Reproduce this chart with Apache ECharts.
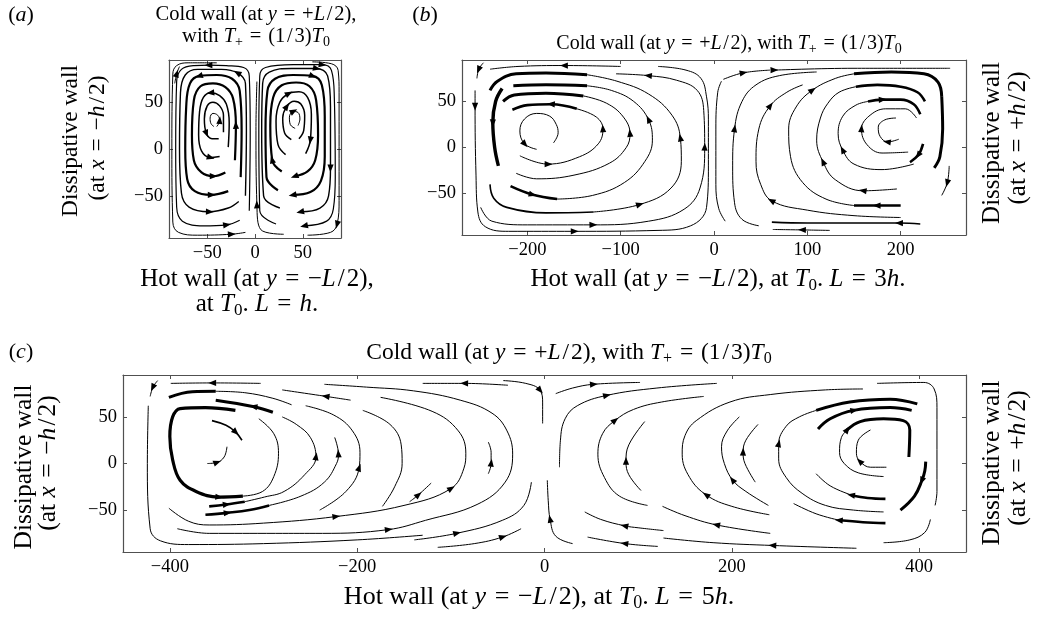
<!DOCTYPE html>
<html><head><meta charset="utf-8">
<script src="https://cdn.jsdelivr.net/npm/echarts@6/dist/echarts.min.js"></script>
<style>html,body{margin:0;padding:0;background:#fff}#c{width:1038px;height:617px}</style>
</head><body><div id="c"></div>
<script>
// ---- tick values ----
const aTicksX = [-50, 0, 50];
const bTicksX = [-200, -100, 0, 100, 200];
const cTicksX = [-400, -200, 0, 200, 400];
const yTicks = [-50, 0, 50];

// ---- streamlines, panel (a): L = h ----
const aLeftLines = [
 [[-40,24],[-37,30],[-39,36],[-44,38],[-47,33],[-46,27],[-43,24]],
 [[-33,18],[-33,36],[-37,46],[-44,50],[-50,46],[-53,32],[-51,17],[-45,11],[-38,11]],
 [[-28,2],[-27,28],[-30,48],[-37,57],[-46,60],[-54,55],[-58,40],[-59,15],[-56,-2],[-47,-9],[-37,-8]],
 [[-21,-12],[-20,25],[-23,54],[-31,66],[-44,70],[-57,67],[-64,52],[-66,15],[-64,-12],[-56,-25],[-44,-29],[-31,-25]],
 [[-15,-30],[-14,20],[-16,62],[-24,75],[-40,79],[-58,78],[-68,70],[-72,45],[-73,0],[-71,-32],[-63,-45],[-46,-49],[-28,-45]],
 [[-10,-50],[-9,20],[-10,70],[-18,81],[-35,85],[-60,85],[-73,79],[-78,60],[-79,0],[-77,-47],[-69,-62],[-48,-67],[-28,-63],[-17,-56]],
 [[-6,-66],[-5,20],[-6,78],[-12,87],[-30,89],[-48,89.5],[-64,89],[-77,85],[-82,72],[-83,0],[-82,-62],[-76,-77],[-54,-82],[-30,-81],[-16,-76]],
 [[-40,92],[-70,92],[-82,89],[-86,80],[-87,0],[-86,-78],[-80,-89],[-60,-92],[-25,-91],[-10,-89]],
 [[-84,70],[-82,80],[-79,88]]
];
const aRightLines = [
 [[42,22],[37,26],[36,34],[40,40],[45,39],[47,32],[45,25]],
 [[38,10],[31,17],[29,33],[33,45],[41,51],[48,48],[52,36],[51,20],[46,11]],
 [[32,-6],[24,5],[22,30],[26,50],[35,59],[46,61],[55,55],[59,37],[58,10],[53,-5]],
 [[28,-24],[18,-12],[16,25],[19,55],[28,68],[43,71],[57,67],[64,52],[66,15],[63,-12],[55,-24],[42,-29]],
 [[24,-44],[12,-30],[11,20],[13,62],[21,75],[40,79],[60,78],[70,68],[73,35],[73,-8],[69,-34],[58,-46],[40,-49]],
 [[26,-63],[9,-50],[7,20],[8,70],[15,82],[38,86],[64,86],[76,78],[79,45],[79,-20],[77,-50],[68,-63],[48,-67]],
 [[22,-80],[5,-66],[4,20],[5,78],[11,87],[40,90],[70,90],[80,84],[83,55],[84,-30],[82,-64],[75,-77],[52,-82]],
 [[30,-91],[6,-86],[2,-60],[1,20],[2,72]],
 [[60,93],[80,91],[87,84],[88,60],[88,-55],[86,-80],[79,-89],[55,-92]]
];

// ---- streamlines, panel (b): L = 3h ----
const bLeftLines = [
 [[-172,5],[-167,16],[-169,25],[-176,34],[-190,37],[-203,31],[-208,18],[-203,4],[-190,-2]],
 [[-208,-9],[-178,-18],[-144,-10],[-124,4],[-119,20],[-126,33],[-147,42]],
 [[-147,42],[-174,47],[-200,46],[-216,41]],
 [[-212,-28],[-190,-34],[-150,-30],[-112,-17],[-94,0],[-90,15],[-97,33],[-115,48],[-140,56]],
 [[-140,56],[-180,59],[-214,57],[-226,50]],
 [[-168,-56],[-130,-52],[-96,-38],[-74,-15],[-66,8],[-70,30],[-86,50],[-110,62],[-136,67]],
 [[-136,67],[-180,68],[-215,67]],
 [[-218,-42],[-195,-51],[-168,-56]],
 [[-129,-70],[-80,-62],[-46,-44],[-35,-15],[-36,10],[-45,35],[-70,58],[-104,72],[-136,79]],
 [[-136,79],[-180,81],[-212,80],[-232,72],[-240,62]],
 [[-240,-40],[-236,-55],[-222,-65],[-180,-71],[-129,-70]],
 [[-250,-65],[-238,-80],[-200,-84],[-130,-84],[-70,-80],[-32,-67],[-15,-44],[-10,0],[-11,40],[-18,62],[-40,73],[-70,78],[-105,80]],
 [[-256,62],[-256,45],[-255,-30],[-253,-70],[-245,-86],[-220,-91],[-150,-91],[-60,-90],[-25,-85],[-8,-65],[-6,-20],[-6,30],[-8,55],[-14,75],[-30,84],[-60,88]],
 [[-100,88],[-160,89],[-210,88],[-240,85]],
 [[-227,64],[-234,50],[-237,27],[-235,0],[-231,-20]],
 [[-247,92],[-252,85],[-254,75]]
];
const bRightLines = [
 [[198,9],[186,6],[178,12],[176,22],[183,30],[195,32]],
 [[208,-5],[180,-6],[164,3],[158,20],[166,34],[184,42],[205,42],[217,32]],
 [[214,-18],[180,-24],[150,-18],[138,-3],[133,15],[138,34],[152,46],[165,50]],
 [[165,50],[180,52],[200,52],[214,47],[221,36]],
 [[224,4],[219,-8],[210,-16]],
 [[196,-45],[160,-47],[130,-35],[117,-16],[110,8],[114,32],[122,48],[134,60],[152,66]],
 [[152,66],[175,68],[200,66],[218,60],[226,50]],
 [[200,-63],[175,-63],[150,-63]],
 [[150,-63],[120,-56],[95,-38],[82,-10],[80,20],[88,44],[105,62],[130,75],[150,80]],
 [[150,80],[190,82],[225,80],[240,71],[244,55]],
 [[244,55],[245,20],[242,-10],[236,-22]],
 [[200,-76],[150,-74],[100,-68],[62,-58],[50,-40],[45,-15],[48,20],[60,45],[78,60],[95,68]],
 [[48,-85],[30,-78],[22,-60],[20,-20],[22,20],[30,50],[45,68],[70,78],[110,82]],
 [[10,74],[31,81],[60,84]],
 [[64,84],[150,86],[253,86]],
 [[12,-80],[5,-66],[2,-40],[2,20],[4,60],[8,72]],
 [[252,-20],[250,-38],[244,-52]],
 [[221,-83],[199,-82],[150,-82],[100,-82],[62,-81]],
 [[124,-90],[95,-89.5],[63,-89]]
];

// ---- streamlines, panel (c): L = 5h ----
const cLeftLines = [
 [[-423,62],[-424,0],[-421,-70],[-410,-83],[-380,-87],[-300,-86],[-200,-82],[-130,-77]],
 [[-413,89],[-418,82],[-421,72]],
 [[-303,86],[-354,86.5],[-399,86]],
 [[-207,68],[-233,72],[-280,79]],
 [[-39,84],[-85,86],[-130,86]],
 [[-44,89],[-20,86],[-5,79],[-2,65],[-2,43]],
 [[-360,0],[-350,1],[-342,7],[-339,18]],
 [[-355,46],[-340,41],[-330,34],[-323,25]],
 [[-322,-35],[-301,-30],[-289,-14],[-284,11],[-289,32],[-305,48]],
 [[-330,57],[-362,60],[-389,59],[-397,50],[-400,29],[-397,4],[-389,-18],[-372,-30],[-348,-36],[-322,-35]],
 [[-320,-41],[-299,-36],[-278,-30],[-256,-12],[-244,7],[-250,28],[-265,42],[-280,50]],
 [[-358,-46],[-340,-44],[-320,-41]],
 [[-290,55],[-310,61],[-351,68]],
 [[-401,71],[-376,77],[-351,77.5]],
 [[-351,77.5],[-320,76],[-290,70],[-270,63]],
 [[-362,-55],[-339,-53],[-315,-50],[-294,-45]],
 [[-294,-45],[-260,-35],[-235,-20],[-222,0],[-220,10],[-224,28]],
 [[-240,-50],[-212,-30],[-198,-5],[-197,12],[-205,35],[-225,52],[-255,62]],
 [[-173,-46],[-160,-25],[-152,0],[-153,20],[-165,42],[-194,57]],
 [[-401,-48],[-380,-62],[-358,-66],[-300,-64],[-223,-57],[-150,-45],[-100,-27],[-86,-5],[-84,11],[-92,35],[-120,56],[-175,71]],
 [[-60,-11],[-57,0],[-57,12],[-60,23]],
 [[-144,-41],[-135,-34],[-121,-21]],
 [[-392,-70],[-358,-75],[-287,-75],[-237,-75],[-167,-71],[-127,-61],[-72,-44],[-42,-20],[-34,10],[-40,35],[-56,54],[-90,68],[-140,78],[-190,82],[-235,85]],
 [[-139,-82],[-94,-75],[-45,-61],[-22,-45],[-14,-20]],
 [[-114,-90],[-75,-86],[-45,-79],[-25,-70]]
];
const cRightLines = [
 [[365,-4],[348,-4],[337,2],[333,11],[335,25],[348,36]],
 [[362,-14],[335,-10],[320,0],[315,12],[317,28],[323,36]],
 [[323,36],[337,45],[362,48],[383,46],[390,36],[389,7]],
 [[292,37],[305,48],[330,57],[369,60],[392,57]],
 [[290,57],[326,66],[369,69],[398,64]],
 [[407,2],[406,-8],[403,-18],[395,-35],[380,-50]],
 [[364,-38],[345,-37],[328,-34]],
 [[328,-34],[305,-24],[290,-11]],
 [[364,-64],[340,-63],[315,-61]],
 [[315,-61],[290,-54],[266,-43]],
 [[362,-52],[330,-50],[300,-45],[275,-32],[258,-15],[250,5],[250,21],[258,40],[272,50],[290,57]],
 [[225,-20],[214,0],[212,12],[215,25],[228,42]],
 [[239,-45],[215,-30],[201,-18],[192,0],[189,18],[195,35],[208,50]],
 [[240,-55],[200,-46],[173,-34],[155,-15],[147,10],[150,30],[162,46],[198,66],[241,74],[300,79],[340,80]],
 [[103,-29],[90,-12],[87,2],[90,20],[107,45]],
 [[110,-45],[80,-35],[64,-15],[57,10],[62,32],[75,46],[95,58],[125,66],[170,72]],
 [[12,75],[30,81],[52,85],[102,87]],
 [[16,-4],[17,25],[22,48],[35,62],[66,73],[120,81],[184,86]],
 [[333,-91],[244,-88],[180,-85],[127,-80]],
 [[121,-89],[86,-86],[46,-79]],
 [[241,-75],[184,-66],[150,-56],[126,-46]],
 [[127,-72],[100,-69],[86,-67],[60,-60],[43,-52]],
 [[355,86],[405,87],[416,80],[419,60],[419,-30],[417,-45]],
 [[412,-60],[406,-74],[390,-82],[362,-85]],
 [[30,-86],[12,-78],[6,-60],[4,-40],[3,-18]]
];

// ---- styles: line width and arrow vertex indices (kept apart from the data) ----
const aLeftStyle = [{w:1,a:[1]},{w:1.5,a:[6]},{w:1.5,a:[4,9]},{w:2.2,a:[1,10]},{w:2.2,a:[5,11]},{w:1.4,a:[3,11]},{w:1.2,a:[5,13]},{w:1,a:[8]},{w:1,a:[1]}];
const aRightStyle = [{w:1,a:[3]},{w:1.5,a:[3]},{w:1.5,a:[4,8]},{w:2.2,a:[1,11]},{w:2.2,a:[6,12]},{w:1.4,a:[6,9,12]},{w:1.2,a:[6,12]},{w:1,a:[2]},{w:1,a:[5]}];
const bLeftStyle = [{w:1,a:[7]},{w:1,a:[1,4]},{w:2.6,a:[1]},{w:1,a:[5]},{w:3,a:[]},{w:1,a:[5]},{w:3,a:[]},{w:2.6,a:[1]},{w:1,a:[1,4]},{w:3,a:[]},{w:1.6,a:[]},{w:1,a:[3,7,11]},{w:1,a:[1,6]},{w:1,a:[1]},{w:3.4,a:[2]},{w:1,a:[1]}];
const bRightStyle = [{w:1,a:[1]},{w:1,a:[3]},{w:1,a:[3]},{w:2.6,a:[1]},{w:2.6,a:[1]},{w:1,a:[1,3]},{w:2.6,a:[]},{w:2.6,a:[1]},{w:1,a:[6]},{w:3,a:[]},{w:3,a:[]},{w:1,a:[3,7]},{w:1,a:[4]},{w:1,a:[1]},{w:1,a:[0]},{w:1,a:[]},{w:1,a:[1]},{w:1.6,a:[1]},{w:1,a:[1]}];
const cLeftStyle = [{w:1,a:[]},{w:1,a:[1]},{w:1,a:[1]},{w:1,a:[1]},{w:1,a:[1]},{w:1,a:[2]},{w:1,a:[1]},{w:1.6,a:[2]},{w:1,a:[]},{w:3.2,a:[8]},{w:1,a:[4]},{w:2.6,a:[1]},{w:3,a:[1]},{w:3,a:[]},{w:1,a:[]},{w:2.6,a:[1]},{w:1,a:[4]},{w:1,a:[2]},{w:1,a:[]},{w:1,a:[4,6]},{w:1,a:[1]},{w:1,a:[1]},{w:1,a:[4]},{w:1,a:[1]},{w:1,a:[2]}];
const cRightStyle = [{w:1,a:[2]},{w:1,a:[5]},{w:3,a:[]},{w:3,a:[2]},{w:3,a:[]},{w:3,a:[2]},{w:2.6,a:[2]},{w:1,a:[]},{w:2.6,a:[2]},{w:1,a:[]},{w:1,a:[6]},{w:1,a:[2]},{w:1,a:[2]},{w:1,a:[2]},{w:1,a:[2]},{w:1,a:[5]},{w:1,a:[2]},{w:1,a:[4]},{w:1,a:[1]},{w:1,a:[1]},{w:1,a:[1]},{w:1,a:[2]},{w:1,a:[]},{w:1,a:[]},{w:1,a:[2]}];

const F = 'Liberation Serif';
const panels = [
 {grid:{left:169, top:60, width:172, height:178}, x:[-90,90], y:[-95,95], xt:aTicksX, sets:[[aLeftLines,aLeftStyle],[aRightLines,aRightStyle]]},
 {grid:{left:462, top:60, width:504, height:175}, x:[-270,270], y:[-95,95], xt:bTicksX, sets:[[bLeftLines,bLeftStyle],[bRightLines,bRightStyle]]},
 {grid:{left:123, top:375, width:843, height:177}, x:[-450,450], y:[-95,95], xt:cTicksX, sets:[[cLeftLines,cLeftStyle],[cRightLines,cRightStyle]]}
];

const minus = v => String(v).replace('-', '\u2212');
const grids = [], xAxes = [], yAxes = [], series = [];
function axisBase(g, r, ticks, pos, labels) {
  return {gridIndex:g, type:'value', min:r[0], max:r[1], position:pos,
    splitLine:{show:false},
    axisLine:{show:true, onZero:false, lineStyle:{color:'#505050', width:1.2}},
    axisTick:{show:true, inside:true, length:4, customValues:ticks, lineStyle:{color:'#505050', width:1}},
    axisLabel:{show:labels, customValues:ticks, formatter:minus, fontFamily:F, fontSize:18.5, color:'#000', margin:6}};
}
function renderArrow(params, api) {
  const p = api.coord([api.value(0), api.value(1)]);
  const a = api.coord([api.value(2), api.value(3)]);
  const b = api.coord([api.value(4), api.value(5)]);
  let dx = b[0]-a[0], dy = b[1]-a[1];
  const L = Math.hypot(dx, dy) || 1; dx /= L; dy /= L;
  const s = 4.6, w = 3.1;
  const pts = [[p[0]+dx*s, p[1]+dy*s],
    [p[0]-dx*s*0.7-dy*w, p[1]-dy*s*0.7+dx*w],
    [p[0]-dx*s*0.7+dy*w, p[1]-dy*s*0.7-dx*w]];
  return {type:'polygon', shape:{points:pts}, style:{fill:'#000'}};
}
panels.forEach((P, g) => {
  grids.push(P.grid);
  xAxes.push(axisBase(g, P.x, P.xt, 'bottom', true));
  xAxes.push(axisBase(g, P.x, P.xt, 'top', false));
  yAxes.push(axisBase(g, P.y, yTicks, 'left', true));
  yAxes.push(axisBase(g, P.y, yTicks, 'right', false));
  const arrows = [];
  P.sets.forEach(([lines, styles]) => {
    lines.forEach((pts, i) => {
      const st = styles[i];
      series.push({type:'line', xAxisIndex:2*g, yAxisIndex:2*g, data:pts, smooth:0.4,
        symbol:'none', silent:true, z:2,
        lineStyle:{color:'#000', width:st.w, cap:'butt'}});
      st.a.forEach(k => {
        const q = pts[k], pr = pts[Math.max(0, k-1)], nx = pts[Math.min(pts.length-1, k+1)];
        arrows.push([q[0], q[1], pr[0], pr[1], nx[0], nx[1]]);
      });
    });
  });
  series.push({type:'custom', xAxisIndex:2*g, yAxisIndex:2*g, data:arrows, renderItem:renderArrow,
    encode:{x:0, y:1}, silent:true, z:5, clip:false});
});

function rich(sz) {
  const lh = Math.round(sz*1.2);
  return {
    n:{fontFamily:F, fontSize:sz, fill:'#000', lineHeight:lh},
    i:{fontFamily:F, fontSize:sz, fill:'#000', fontStyle:'italic', lineHeight:lh},
    s:{fontFamily:F, fontSize:Math.round(sz*0.68), fill:'#000', lineHeight:Math.round(sz*0.62), verticalAlign:'bottom'}
  };
}
function txt(x, y, text, sz, rot) {
  return {type:'text', x:x, y:y, rotation:rot||0, silent:true,
    style:{text:text, rich:rich(sz), fontFamily:F, fontSize:sz, fill:'#000',
      textAlign:'center', textVerticalAlign:'middle', align:'center', verticalAlign:'middle'}};
}
const R = Math.PI/2;
const EQ = ' \u200A=\u200A ';
const SL = '\u200A/\u200A';
const coldTitle = '{n|Cold wall (at }{i|y}{n|' + EQ + '+}{i|L}{n|' + SL + '2), with }{i|T}{s|+}{n|' + EQ + '(1' + SL + '3)}{i|T}{s|0}';
const hotHead = '{n|Hot wall (at }{i|y}{n|' + EQ + '\u2212}{i|L}{n|' + SL + '2),';
const leftWall = '{n|(at }{i|x}{n|' + EQ + '\u2212}{i|h}{n|' + SL + '2)}';
const rightWall = '{n|(at }{i|x}{n|' + EQ + '+}{i|h}{n|' + SL + '2)}';
const graphics = [
  txt(21, 15, '{n|(}{i|a}{n|)}', 22),
  txt(425, 15, '{n|(}{i|b}{n|)}', 22),
  txt(21, 352, '{n|(}{i|c}{n|)}', 22),
  txt(256, 15, '{n|Cold wall (at }{i|y}{n|' + EQ + '+}{i|L}{n|' + SL + '2),}', 20.5),
  txt(256, 37, '{n|with }{i|T}{s|+}{n|' + EQ + '(1' + SL + '3)}{i|T}{s|0}', 20.5),
  txt(729, 44, coldTitle, 20),
  txt(569, 353, coldTitle, 23.5),
  txt(257, 279, hotHead + '}', 25),
  txt(257, 304, '{n|at }{i|T}{s|0}{n|. }{i|L}{n|' + EQ + '}{i|h}{n|.}', 25),
  txt(718, 279, hotHead + ' at }{i|T}{s|0}{n|. }{i|L}{n|' + EQ + '3}{i|h}{n|.}', 25),
  txt(539, 597, hotHead + ' at }{i|T}{s|0}{n|. }{i|L}{n|' + EQ + '5}{i|h}{n|.}', 26),
  txt(71, 141, '{n|Dissipative wall}', 23.5, R),
  txt(98, 138, leftWall, 23.5, R),
  txt(24, 467, '{n|Dissipative wall}', 25.5, R),
  txt(48, 463, leftWall, 25.5, R),
  txt(992, 143, '{n|Dissipative wall}', 25, R),
  txt(1018, 138, rightWall, 25, R),
  txt(992, 463, '{n|Dissipative wall}', 25.5, R),
  txt(1018, 458, rightWall, 25.5, R)
];

const chart = echarts.init(document.getElementById('c'), null, {renderer:'canvas'});
chart.setOption({animation:false, backgroundColor:'#fff', grid:grids, xAxis:xAxes, yAxis:yAxes, series:series, graphic:graphics});
</script></body></html>
